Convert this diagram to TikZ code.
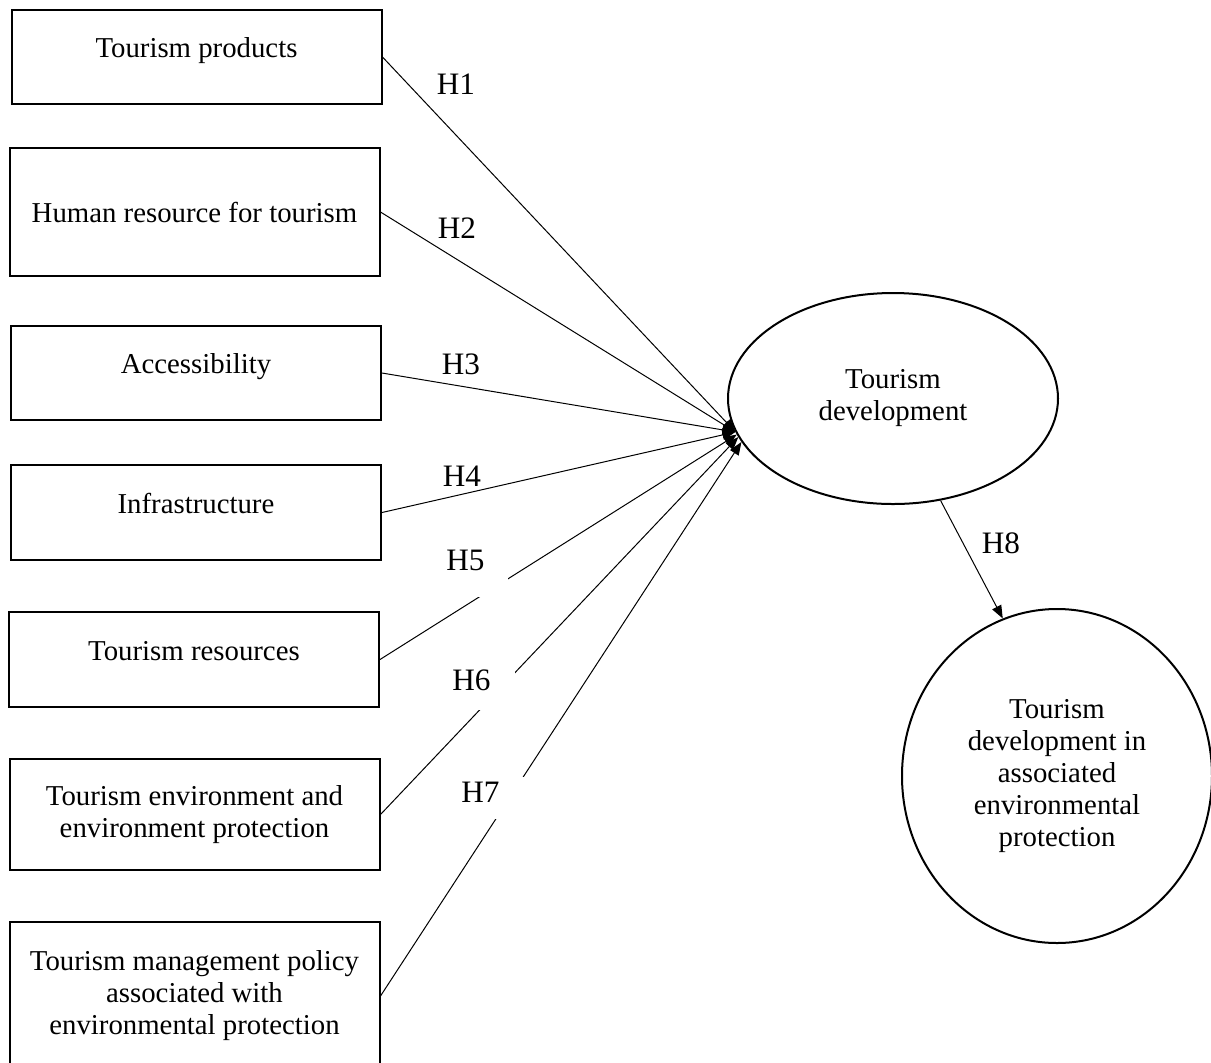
\documentclass[tikz,border=0pt]{standalone}
\usepackage{fontspec}
\setmainfont{Liberation Serif}
\usetikzlibrary{arrows.meta,shapes.geometric}

\tikzset{
    factor/.style={draw, line width=1pt, minimum width=185pt, align=center,
        font=\fontsize{14.4pt}{16pt}\selectfont},
    raised/.style={text height=9.5pt, text depth=9pt},
    construct/.style={draw, ellipse, line width=1pt, inner sep=0pt, align=center,
        font=\fontsize{14.4pt}{16pt}\selectfont},
    effect/.style={line width=0.5pt, -{Triangle[length=6.5pt,width=5pt]}},
    hyp/.style={font=\fontsize{15.6pt}{18pt}\selectfont},
    hypcut/.style={fill=white, inner sep=0pt, anchor=north west, align=left, text height=12.5pt}
}

\begin{document}
\begin{tikzpicture}[x=0.5pt, y=-0.5pt]
        \useasboundingbox (0,0) rectangle (1211,1062);
        \clip (0,0) rectangle (1211,1062);

        \node[factor, raised, minimum height=47pt] (prod) at (196.5,57) {Tourism products};
        \node[factor, minimum height=64pt] (human) at (194.5,212) {Human resource for tourism};
        \node[factor, raised, minimum height=47pt] (access) at (196,373) {Accessibility};
        \node[factor, raised, minimum height=47.5pt] (infra) at (196,512.5) {Infrastructure};
        \node[factor, raised, minimum height=47.5pt] (res) at (194,659.5) {Tourism resources};
        \node[factor, minimum height=55.5pt] (env) at (194.5,814.5) {Tourism environment and\\environment protection};
        \node[factor, minimum height=74pt] (policy) at (194.5,996) {Tourism management policy\\associated with\\environmental protection};

        \node[construct, minimum width=165pt, minimum height=105.5pt] (dev) at (893,398.5) {Tourism\\development};
        \node[construct, minimum width=155pt, minimum height=167pt] (out) at (1057,776) {Tourism\\development in\\associated\\environmental\\protection};

        \draw[effect] (prod.east) -- (dev.192);
        \draw[effect] (human.east) -- (dev.192);
        \draw[effect] (access.east) -- (dev.192);
        \draw[effect] (infra.east) -- (dev.192);
        \draw[effect] (res.east) -- (dev.193);
        \draw[effect] (env.east) -- (dev.194);
        \draw[effect] (policy.east) -- (dev.196);
        \draw[effect] (dev.295) -- (out.109);

        \node[hyp] (h1) at (456,84) {H1};
        \node[hyp] (h2) at (457,228) {H2};
        \node[hyp] (h3) at (461,364) {H3};
        \node[hyp] (h4) at (462,476) {H4};
        \node[hyp, hypcut, text width=31pt, text depth=13.5pt] (h5) at (446,545) {H5};
        \node[hyp, hypcut, text width=31.5pt, text depth=10pt] (h6) at (452,665) {H6};
        \node[hyp, hypcut, text width=33.5pt, text depth=8.5pt] (h7) at (461,777) {H7};
        \node[hyp] (h8) at (1001,543) {H8};
    \end{tikzpicture}
\end{document}
